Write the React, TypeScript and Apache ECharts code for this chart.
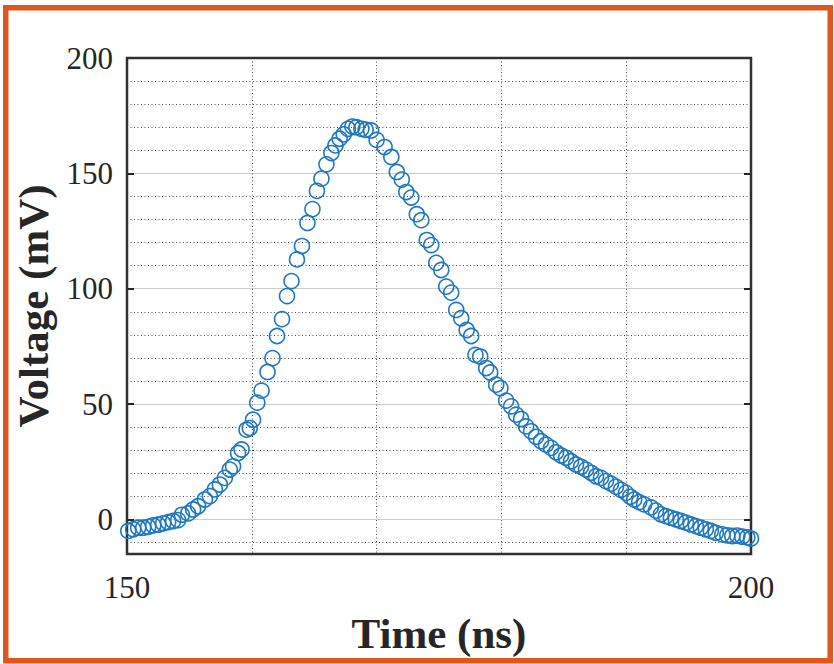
import React, { useEffect, useRef } from "react";
import * as echarts from "echarts";

const timeNs = [
  150.1, 150.5, 150.9, 151.3, 151.7, 152.1, 152.5, 152.9, 153.3, 153.7, 154.1, 154.4, 154.9, 155.3, 155.7,
  156.24, 156.64, 157.04, 157.44, 157.84, 158.24, 158.5, 158.9, 159.18, 159.58, 159.84, 160.1, 160.44,
  160.78, 161.26, 161.66, 162.02, 162.42, 162.82, 163.18, 163.62, 164.02, 164.46, 164.86, 165.22, 165.58,
  165.98, 166.38, 166.7, 167.04, 167.36, 167.7, 168.06, 168.38, 168.78, 169.12, 169.56, 170.0, 170.64,
  171.18, 171.62, 172.02, 172.38, 172.78, 173.22, 173.58, 174.02, 174.38, 174.78, 175.18, 175.58, 175.98,
  176.38, 176.78, 177.22, 177.58, 177.92, 178.3, 178.78, 179.1, 179.58, 179.92, 180.38, 180.78, 181.18,
  181.58, 181.98, 182.38, 182.78, 183.18, 183.58, 183.98, 184.38, 184.78, 185.18, 185.58, 185.98, 186.38,
  186.78, 187.18, 187.58, 187.98, 188.38, 188.78, 189.18, 189.58, 189.98, 190.32, 190.64, 191.04, 191.44,
  191.98, 192.38, 192.78, 193.18, 193.58, 193.98, 194.38, 194.78, 195.18, 195.58, 195.98, 196.38, 196.78,
  197.18, 197.7, 198.1, 198.5, 198.9, 199.3, 199.7, 200.0,
];

const voltageMv = [
  -5.0, -4.3, -3.6, -3.6, -3.2, -2.6, -2.3, -1.7, -1.2, -0.7, -0.3, 2.0, 2.6, 4.3, 5.7,
  8.6, 10.1, 13.0, 15.1, 18.0, 21.6, 23.0, 28.8, 30.3, 38.9, 39.6, 43.2, 50.6,
  55.8, 63.9, 69.9, 79.5, 86.8, 96.8, 103.3, 112.7, 118.5, 128.5, 134.5, 142.4, 147.7,
  153.9, 158.8, 162.1, 165.0, 166.9, 169.3, 170.3, 170.0, 169.3, 168.9, 168.6, 164.5, 161.4,
  157.1, 150.6, 147.3, 141.9, 139.5, 132.3, 129.7, 121.1, 118.9, 111.2, 108.1, 100.9, 98.3,
  90.8, 87.2, 82.1, 79.5, 71.3, 70.6, 65.6, 63.7, 58.4, 56.9, 51.5, 49.0, 45.4,
  43.5, 40.3, 38.2, 35.8, 33.9, 32.4, 31.0, 29.1, 27.7, 26.7, 25.2, 23.8, 22.8,
  21.6, 20.2, 18.7, 18.0, 16.6, 15.5, 14.2, 12.8, 11.5, 9.8, 8.6, 7.5, 6.5,
  5.2, 3.8, 2.2, 1.4, 0.7, 0.0, -0.7, -1.4, -2.2, -2.9, -3.6, -4.3, -5.0,
  -5.8, -6.5, -6.9, -7.2, -7.0, -7.5, -7.8, -8.3,
];

const xTicks = [150, 200];
const yTicks = [0, 50, 100, 150, 200];
const yMinorTicks = [-10, 10, 20, 30, 40, 60, 70, 80, 90, 110, 120, 130, 140, 160, 170, 180, 190];

const xTitle = "Time (ns)";
const yTitle = "Voltage (mV)";

export default function App() {
  const ref = useRef<HTMLDivElement>(null);

  useEffect(() => {
    if (!ref.current) return;
    const chart = echarts.init(ref.current, null, { renderer: "svg" });
    const serif = "'Liberation Serif', 'Times New Roman', serif";
    const textColor = "#262626";
    const dotted = { color: "#4a4a4a", width: 1, type: [1, 2.5] as any };
    const yBase = { type: "value", min: -15, max: 200, gridIndex: 0 };

    chart.setOption({
      animation: false,
      backgroundColor: "#ffffff",
      graphic: [
        {
          type: "rect",
          shape: { x: 5.75, y: 7.75, width: 824.5, height: 653 },
          style: { fill: "none", stroke: "#E0561C", lineWidth: 5.5 },
          z: 100,
        },
      ],
      grid: {
        left: 127,
        top: 58,
        width: 624,
        height: 496,
        show: true,
        borderColor: "#303030",
        borderWidth: 2.5,
        backgroundColor: "transparent",
        z: 3,
      },
      xAxis: [
        {
          type: "value",
          min: xTicks[0],
          max: xTicks[1],
          interval: xTicks[1] - xTicks[0],
          axisLine: { show: false },
          axisTick: { show: false },
          axisLabel: { fontFamily: serif, fontSize: 31, color: textColor, margin: 18 },
          splitLine: { show: false },
          minorTick: { show: false, splitNumber: 5 },
          minorSplitLine: { show: true, lineStyle: dotted },
          name: xTitle,
          nameLocation: "middle",
          nameGap: 58,
          nameTextStyle: { fontFamily: serif, fontSize: 43, fontWeight: "bold", color: textColor },
        },
      ],
      yAxis: [
        {
          ...yBase,
          position: "left",
          axisLine: { show: false },
          axisTick: {
            show: true,
            inside: true,
            length: 7,
            customValues: yTicks,
            lineStyle: { color: textColor, width: 2 },
          },
          axisLabel: { fontFamily: serif, fontSize: 31, color: textColor, margin: 14, customValues: yTicks },
          splitLine: { show: true, lineStyle: { color: "#cdcdcd", width: 1.2 } },
          name: yTitle,
          nameLocation: "middle",
          nameRotate: 90,
          nameGap: 72,
          nameTextStyle: { fontFamily: serif, fontSize: 43, fontWeight: "bold", color: textColor },
        },
        {
          ...yBase,
          position: "right",
          axisLine: { show: false },
          axisTick: {
            show: true,
            inside: true,
            length: 7,
            customValues: yTicks,
            lineStyle: { color: textColor, width: 2 },
          },
          axisLabel: { show: false },
          splitLine: { show: false },
        },
        {
          ...yBase,
          position: "left",
          axisLine: { show: false },
          axisTick: { show: false, customValues: yMinorTicks },
          axisLabel: { show: false },
          splitLine: { show: true, lineStyle: dotted },
        },
      ],
      series: [
        {
          type: "scatter",
          xAxisIndex: 0,
          yAxisIndex: 0,
          data: timeNs.map((t, i) => [t, voltageMv[i]]),
          symbol: "circle",
          symbolSize: 15,
          clip: false,
          z: 5,
          itemStyle: { color: "rgba(0,0,0,0)", borderColor: "#1f78c1", borderWidth: 1.6, opacity: 1 },
        },
      ],
    });

    return () => chart.dispose();
  }, []);

  return (
    <div
      ref={ref}
      style={{ position: "fixed", left: 0, top: 0, width: 834, height: 664, background: "#fff" }}
    />
  );
}
